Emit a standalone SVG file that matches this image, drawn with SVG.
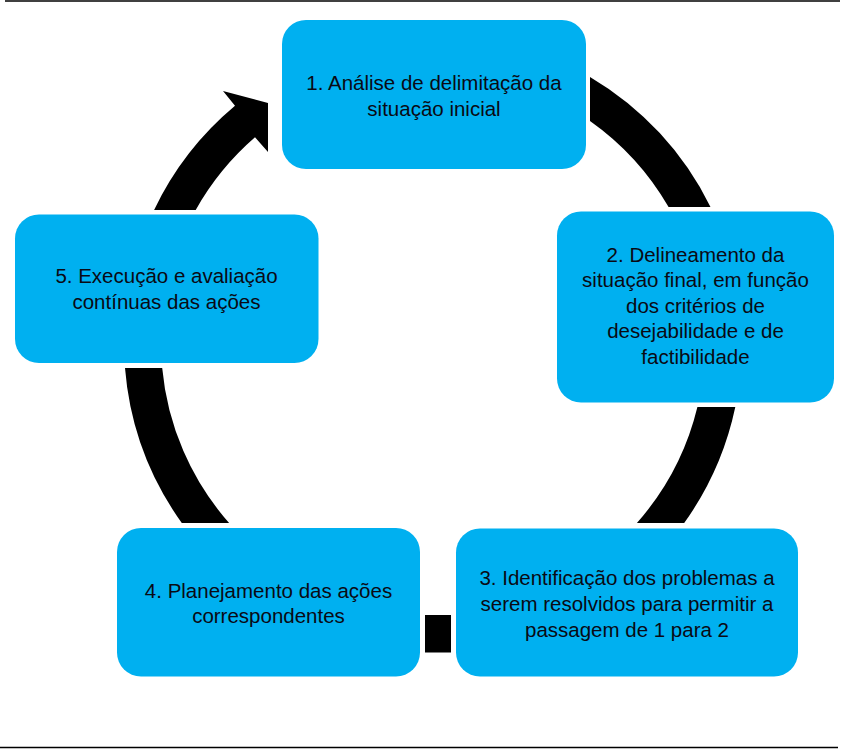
<svg xmlns="http://www.w3.org/2000/svg" width="850" height="754" viewBox="0 0 850 754">
<style>
.box{fill:#00B0F0;}
.lbl{font-family:"Liberation Sans",Arial,sans-serif;font-size:20.5px;fill:#0a0a14;text-anchor:middle;}
.arc{fill:#000;}
.rule{stroke:#000;stroke-width:1.5;}
</style>
<rect width="850" height="754" fill="#fff"/>
<line class="rule" x1="5" y1="1" x2="840" y2="1"/>
<line class="rule" x1="0" y1="747.5" x2="838" y2="747.5"/>
<g id="connectors">
<path class="arc" d="M154.1,210 A309,309 0 0 1 235,105.8 L223,91 L268,103 L268,152 L255,137.3 A272,272 0 0 0 195.7,210 Z"/>
<path class="arc" d="M590,76.9 A309,309 0 0 1 710.5,207 L668.6,207 A272,272 0 0 0 590,120.9 Z"/>
<path class="arc" d="M735.3,407 A309,309 0 0 1 684.2,523 L636.9,523 A272,272 0 0 0 697.4,407 Z"/>
<rect class="arc" x="425" y="615" width="26" height="37.5"/>
<path class="arc" d="M181.8,523 A309,309 0 0 1 125,368 L162.2,368 A272,272 0 0 0 229.1,523 Z"/>
</g>
<g id="node1">
<rect class="box" x="282" y="20" width="304" height="149" rx="24"/>
<text class="lbl" x="434" y="90">1. Análise de delimitação da</text>
<text class="lbl" x="434" y="116">situação inicial</text>
</g>
<g id="node2">
<rect class="box" x="557" y="211.5" width="277" height="191" rx="24"/>
<text class="lbl" x="695.5" y="261.5">2. Delineamento da</text>
<text class="lbl" x="695.5" y="287">situação final, em função</text>
<text class="lbl" x="695.5" y="312.5">dos critérios de</text>
<text class="lbl" x="695.5" y="338">desejabilidade e de</text>
<text class="lbl" x="695.5" y="363.5">factibilidade</text>
</g>
<g id="node3">
<rect class="box" x="456" y="528.5" width="342" height="148" rx="24"/>
<text class="lbl" x="627" y="585">3. Identificação dos problemas a</text>
<text class="lbl" x="627" y="611">serem resolvidos para permitir a</text>
<text class="lbl" x="627" y="637">passagem de 1 para 2</text>
</g>
<g id="node4">
<rect class="box" x="117" y="528" width="303" height="148.5" rx="24"/>
<text class="lbl" x="268.5" y="597.5">4. Planejamento das ações</text>
<text class="lbl" x="268.5" y="623">correspondentes</text>
</g>
<g id="node5">
<rect class="box" x="15" y="214.5" width="303.5" height="148.5" rx="24"/>
<text class="lbl" x="166.5" y="283">5. Execução e avaliação</text>
<text class="lbl" x="166.5" y="309">contínuas das ações</text>
</g>
</svg>
